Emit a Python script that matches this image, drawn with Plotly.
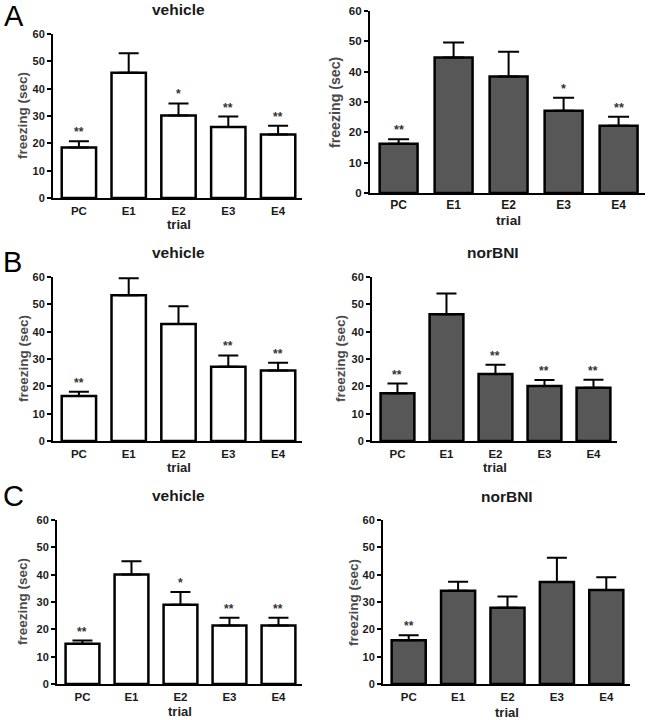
import plotly.graph_objects as go

categories = ["PC", "E1", "E2", "E3", "E4"]

A_vehicle_mean = [18.5, 45.8, 30.2, 26.0, 23.2]
A_vehicle_sem = [2.3, 7.2, 4.4, 3.8, 3.2]
A_vehicle_sig = ["**", "", "*", "**", "**"]

A_right_mean = [16.2, 44.7, 38.4, 27.1, 22.2]
A_right_sem = [1.5, 4.9, 8.2, 4.3, 2.9]
A_right_sig = ["**", "", "", "*", "**"]

B_vehicle_mean = [16.5, 53.3, 42.8, 27.2, 25.8]
B_vehicle_sem = [1.5, 6.2, 6.5, 4.1, 2.8]
B_vehicle_sig = ["**", "", "", "**", "**"]

B_norBNI_mean = [17.5, 46.4, 24.5, 20.1, 19.5]
B_norBNI_sem = [3.5, 7.6, 3.4, 2.2, 2.9]
B_norBNI_sig = ["**", "", "**", "**", "**"]

C_vehicle_mean = [14.7, 40.1, 29.0, 21.4, 21.4]
C_vehicle_sem = [1.2, 4.8, 4.7, 2.8, 2.8]
C_vehicle_sig = ["**", "", "*", "**", "**"]

C_norBNI_mean = [16.0, 34.1, 27.9, 37.3, 34.4]
C_norBNI_sem = [1.8, 3.3, 4.1, 8.9, 4.7]
C_norBNI_sig = ["**", "", "", "", ""]

y_ticks = [0, 10, 20, 30, 40, 50, 60]

W, H = 651, 720
WHITE = "#ffffff"
DARK = "#575757"
FONT = "Liberation Sans"


def px(x):
    return x / W


def py(y):
    return 1 - y / H


# geometry in px: plot box (x0, x1, ytop, ybottom), title pos, y-title x, trial y
panels = [
    dict(mean=A_vehicle_mean, sem=A_vehicle_sem, sig=A_vehicle_sig, fill=WHITE,
         title="vehicle", tpos=(178, 10), geo=(53, 302, 34, 198), ytx=23, trial_y=224,
         fs=1.0, tso=1),
    dict(mean=A_right_mean, sem=A_right_sem, sig=A_right_sig, fill=DARK,
         title="", tpos=None, geo=(370, 645, 11, 193), ytx=335, trial_y=220,
         fs=1.05, tso=0),
    dict(mean=B_vehicle_mean, sem=B_vehicle_sem, sig=B_vehicle_sig, fill=WHITE,
         title="vehicle", tpos=(178, 253), geo=(53, 302, 277, 441), ytx=23, trial_y=467,
         fs=1.0, tso=1),
    dict(mean=B_norBNI_mean, sem=B_norBNI_sem, sig=B_norBNI_sig, fill=DARK,
         title="norBNI", tpos=(493, 253), geo=(372, 617, 277, 441), ytx=340, trial_y=467,
         fs=1.0, tso=1),
    dict(mean=C_vehicle_mean, sem=C_vehicle_sem, sig=C_vehicle_sig, fill=WHITE,
         title="vehicle", tpos=(178, 495), geo=(57, 302, 520, 684), ytx=22, trial_y=711,
         fs=1.0, tso=1),
    dict(mean=C_norBNI_mean, sem=C_norBNI_sem, sig=C_norBNI_sig, fill=DARK,
         title="norBNI", tpos=(507, 496), geo=(383, 630, 520, 684), ytx=353, trial_y=712,
         fs=1.0, tso=1),
]

fig = go.Figure()
annotations = []

for i, p in enumerate(panels):
    n = i + 1
    xa = "x" if n == 1 else f"x{n}"
    ya = "y" if n == 1 else f"y{n}"
    x0, x1, yt, yb = p["geo"]
    fs = p["fs"]
    fig.add_trace(go.Bar(
        x=categories, y=p["mean"], xaxis=xa, yaxis=ya,
        marker=dict(color=p["fill"], line=dict(color="black", width=2.5)),
        error_y=dict(type="data", symmetric=False, array=p["sem"],
                     arrayminus=[0] * len(p["sem"]),
                     color="black", thickness=2, width=10 * fs),
        showlegend=False, hoverinfo="skip",
    ))
    axis_common = dict(showline=True, linecolor="black", linewidth=2,
                       showgrid=False, zeroline=False, fixedrange=True,
                       automargin=False)
    fig.layout[("xaxis" if n == 1 else f"xaxis{n}")] = dict(
        axis_common,
        domain=[px(x0), px(x1)], anchor=ya,
        type="category", range=[-0.52, 4.48], ticks="",
        ticklabelstandoff=p["tso"],
        tickfont=dict(family=FONT, size=11.5 * fs, color="#1a1a1a", weight="bold"),
    )
    fig.layout[("yaxis" if n == 1 else f"yaxis{n}")] = dict(
        axis_common,
        domain=[py(yb), py(yt)], anchor=xa,
        range=[0, 60], tickvals=y_ticks, ticks="outside", ticklen=4,
        tickwidth=2, tickcolor="black",
        tickfont=dict(family=FONT, size=11 * fs, color="#1a1a1a", weight="bold"),
    )
    # y-axis title
    annotations.append(dict(
        x=px(p["ytx"]), y=py((yt + yb) / 2), xref="paper", yref="paper",
        text="freezing (sec)", textangle=-90, showarrow=False,
        xanchor="center", yanchor="middle",
        font=dict(family=FONT, size=13.5 * fs, color="#4a4a4a", weight="bold"),
    ))
    # x-axis title, centred under the middle category
    annotations.append(dict(
        x=categories[2], y=py(p["trial_y"]), xref=xa, yref="paper",
        text="trial", showarrow=False, xanchor="center", yanchor="middle",
        font=dict(family=FONT, size=13 * fs, color="#222", weight="bold"),
    ))
    for c, m, s, g in zip(categories, p["mean"], p["sem"], p["sig"]):
        if g:
            annotations.append(dict(
                x=c, y=m + s, xref=xa, yref=ya, text=g, showarrow=False,
                yanchor="bottom", yshift=0,
                font=dict(family=FONT, size=12 * fs, color="#333", weight="bold"),
            ))
    if p["title"]:
        tx, ty = p["tpos"]
        annotations.append(dict(
            x=px(tx), y=py(ty), xref="paper", yref="paper",
            text=p["title"], showarrow=False, xanchor="center", yanchor="middle",
            font=dict(family=FONT, size=15.5, color="#1a1a1a", weight="bold"),
        ))

for letter, lx, ly in [("A", 14, 16), ("B", 12, 262), ("C", 13, 496)]:
    annotations.append(dict(
        x=px(lx), y=py(ly), xref="paper", yref="paper", text=letter,
        showarrow=False, xanchor="center", yanchor="middle",
        font=dict(family=FONT, size=29, color="black"),
    ))

fig.update_layout(
    width=W, height=H, margin=dict(l=0, r=0, t=0, b=0, autoexpand=False),
    paper_bgcolor="white", plot_bgcolor="white",
    bargap=0.31, annotations=annotations,
)

fig.write_html("out.html", config={"displayModeBar": False},
               post_script="document.body.style.margin='0';document.body.style.overflow='hidden';")
